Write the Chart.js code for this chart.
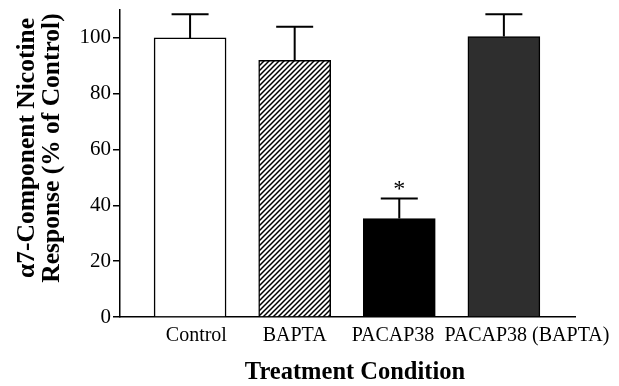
<!DOCTYPE html>
<html>
<head>
<meta charset="utf-8">
<script src="https://cdn.jsdelivr.net/npm/chart.js@4.4.0/dist/chart.umd.min.js"></script>
<style>
  html, body { margin: 0; padding: 0; background: #fff; }
</style>
</head>
<body>
<canvas id="chart" width="619" height="386"></canvas>
<script>
// values
const categories = ['Control', 'BAPTA', 'PACAP38', 'PACAP38 (BAPTA)'];
const responseMeans = [100, 92, 35.3, 100.5];
const responseErrors = [8.5, 12, 7.2, 8];
const significant = [false, false, true, false];
const yTicks = [0, 20, 40, 60, 80, 100];
const yTitle = ['\u03b17-Component Nicotine', 'Response (% of Control)'];
const xTitle = 'Treatment Condition';

const serif = '"Liberation Serif", "Times New Roman", serif';

function hatchPattern() {
    const c = document.createElement('canvas');
    c.width = 5; c.height = 5;
    const g = c.getContext('2d');
    g.fillStyle = '#fff';
    g.fillRect(0, 0, 5, 5);
    g.strokeStyle = '#000';
    g.lineWidth = 1.5;
    g.beginPath();
    g.moveTo(-1, 6); g.lineTo(6, -1);
    g.moveTo(-1, 1); g.lineTo(1, -1);
    g.moveTo(4, 6); g.lineTo(6, 4);
    g.stroke();
    return g.createPattern(c, 'repeat');
}

const ctx = document.getElementById('chart').getContext('2d');

const barColors = ['#ffffff', hatchPattern(), '#000000', '#2e2e2e'];

// error bars, asterisk and axis titles
const extras = {
    id: 'extras',
    afterDatasetsDraw(chart) {
        const c = chart.ctx;
        const xs = chart.scales.x, ys = chart.scales.y;
        c.save();
        c.strokeStyle = '#000';
        c.lineWidth = 2;
        responseMeans.forEach((v, i) => {
            const px = xs.getPixelForValue(i);
            const top = ys.getPixelForValue(v);
            const end = ys.getPixelForValue(v + responseErrors[i]);
            c.beginPath();
            c.moveTo(px, top);
            c.lineTo(px, end);
            c.moveTo(px - 18.5, end);
            c.lineTo(px + 18.5, end);
            c.stroke();
            if (significant[i]) {
                c.fillStyle = '#000';
                c.font = '24px ' + serif;
                c.textAlign = 'center';
                c.textBaseline = 'middle';
                c.fillText('*', px, end - 9);
            }
        });

        c.fillStyle = '#000';
        c.font = 'bold 24.5px ' + serif;
        c.textAlign = 'center';
        c.textBaseline = 'middle';
        c.fillText(xTitle, 355, 373);

        c.font = 'bold 25.5px ' + serif;
        c.translate(27, 148);
        c.rotate(-Math.PI / 2);
        c.fillText(yTitle[0], 0, 0);
        c.fillText(yTitle[1], 0, 25);
        c.restore();
    }
};

// small nudges of the category labels, as in the original figure
const labelNudge = [0.06, 0, -0.06, 0.22];

new Chart(ctx, {
    type: 'bar',
    data: {
        datasets: [{
            data: responseMeans.map((v, i) => ({ x: i, y: v })),
            backgroundColor: barColors,
            borderColor: '#000',
            borderWidth: 1.5,
            barThickness: 72
        }]
    },
    options: {
        responsive: false,
        devicePixelRatio: 1,
        animation: false,
        layout: { padding: { left: 0, top: 10, right: 44, bottom: 0 } },
        plugins: {
            legend: { display: false },
            tooltip: { enabled: false }
        },
        scales: {
            x: {
                type: 'linear',
                min: -0.67,
                max: 3.68,
                offset: false,
                grid: { display: false, drawTicks: false },
                border: { display: true, color: '#000', width: 1.5 },
                afterBuildTicks: scale => {
                    scale.ticks = categories.map((_, i) => ({ value: i + labelNudge[i] }));
                },
                ticks: {
                    color: '#000',
                    padding: 7,
                    maxRotation: 0,
                    autoSkip: false,
                    font: { family: serif, size: 20 },
                    callback: (v, i) => categories[i]
                },
                afterFit: scale => {
                    scale.height = 69;
                    scale.paddingLeft = 0;
                    scale.paddingRight = 0;
                }
            },
            y: {
                min: 0,
                max: 110,
                grid: {
                    display: true,
                    drawOnChartArea: false,
                    drawTicks: true,
                    tickLength: 7,
                    color: '#000',
                    lineWidth: 1.5
                },
                border: { display: true, color: '#000', width: 1.5 },
                afterBuildTicks: scale => {
                    scale.ticks = yTicks.map(v => ({ value: v }));
                },
                ticks: {
                    color: '#000',
                    padding: 2,
                    font: { family: serif, size: 21 }
                },
                afterFit: scale => {
                    scale.width = 120;
                    scale.paddingTop = 0;
                    scale.paddingBottom = 0;
                }
            }
        }
    },
    plugins: [extras]
});
</script>
</body>
</html>
